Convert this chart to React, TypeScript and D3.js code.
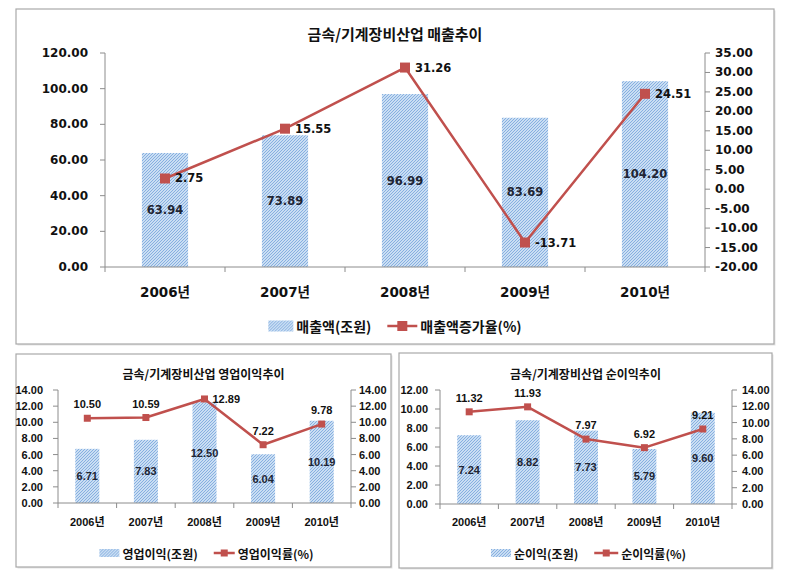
import React, { useEffect, useRef } from 'react';
import * as d3 from 'd3';

// ---------- data ----------
const years = ['2006년', '2007년', '2008년', '2009년', '2010년'];

const salesValues = [63.94, 73.89, 96.99, 83.69, 104.2];
const salesGrowth = [2.75, 15.55, 31.26, -13.71, 24.51];
const salesLeftTicks = [0, 20, 40, 60, 80, 100, 120];
const salesRightTicks = [-20, -15, -10, -5, 0, 5, 10, 15, 20, 25, 30, 35];

const opProfit = [6.71, 7.83, 12.5, 6.04, 10.19];
const opMargin = [10.5, 10.59, 12.89, 7.22, 9.78];
const opLeftTicks = [0, 2, 4, 6, 8, 10, 12, 14];
const opRightTicks = [0, 2, 4, 6, 8, 10, 12, 14];

const netProfit = [7.24, 8.82, 7.73, 5.79, 9.6];
const netMargin = [11.32, 11.93, 7.97, 6.92, 9.21];
const netLeftTicks = [0, 2, 4, 6, 8, 10, 12];
const netRightTicks = [0, 2, 4, 6, 8, 10, 12, 14];

const RED = '#C0504D';
const AXIS = '#8c8c8c';
const fmt = (v: number) => v.toFixed(2);

type Cfg = {
  frame: [number, number, number, number];
  plot: { left: number; right: number; top: number; bottom: number };
  leftTicks: number[];
  rightTicks: number[];
  bars: number[];
  line: number[];
  title: string;
  titleY: number;
  titleSize: number;
  barLegend: string;
  lineLegend: string;
  numFont: string;
  tickSize: number;
  barLabelSize: number;
  lineLabelSize: number;
  catSize: number;
  catY: number;
  legendSize: number;
  legendY: number;
  legendShift: number;
  swatchW: number;
  swatchH: number;
  lineSwatchW: number;
  markerSize: number;
  lineWidth: number;
  barFrac: number;
  lineLabelSide: ('right' | 'above')[];
  rightOffset: number;
  aboveOffset: number;
  leftPad: number;
  rightPad: number;
};

function drawChart(svg: d3.Selection<SVGSVGElement, unknown, null, undefined>, c: Cfg) {
  const g = svg.append('g');
  const [fx0, fy0, fx1, fy1] = c.frame;
  g.append('rect')
    .attr('x', fx0 + 1.5).attr('y', fy0 + 1.5)
    .attr('width', fx1 - fx0).attr('height', fy1 - fy0)
    .attr('fill', '#e4e4e4');
  g.append('rect')
    .attr('x', fx0).attr('y', fy0)
    .attr('width', fx1 - fx0).attr('height', fy1 - fy0)
    .attr('fill', '#fff').attr('stroke', '#a9a9a9').attr('stroke-width', 1.2);

  const font = `${c.numFont}, 'Noto Sans CJK KR', sans-serif`;
  const kfont = `'Noto Sans CJK KR', sans-serif`;

  g.append('text')
    .attr('x', (fx0 + fx1) / 2).attr('y', c.titleY)
    .attr('text-anchor', 'middle').attr('dominant-baseline', 'central')
    .attr('font-family', kfont).attr('font-weight', 'bold')
    .attr('font-size', c.titleSize).attr('fill', '#111')
    .text(c.title);

  const { left, right, top, bottom } = c.plot;
  const x = d3.scaleBand<string>().domain(years).range([left, right]);
  const yL = d3.scaleLinear()
    .domain([c.leftTicks[0], c.leftTicks[c.leftTicks.length - 1]])
    .range([bottom, top]);
  const yR = d3.scaleLinear()
    .domain([c.rightTicks[0], c.rightTicks[c.rightTicks.length - 1]])
    .range([bottom, top]);
  const bw = x.bandwidth() * c.barFrac;
  const cx = (k: string) => (x(k) as number) + x.bandwidth() / 2;

  // bars
  g.selectAll('rect.bar').data(c.bars).enter().append('rect')
    .attr('class', 'bar')
    .attr('x', (_d, i) => cx(years[i]) - bw / 2)
    .attr('y', (d) => yL(d))
    .attr('width', bw)
    .attr('height', (d) => yL(0) - yL(d))
    .attr('fill', 'url(#hatch)');

  // left axis
  g.append('line').attr('x1', left).attr('x2', left).attr('y1', top).attr('y2', bottom)
    .attr('stroke', AXIS).attr('stroke-width', 1);
  c.leftTicks.forEach((t) => {
    g.append('line').attr('x1', left - 5).attr('x2', left).attr('y1', yL(t)).attr('y2', yL(t))
      .attr('stroke', AXIS);
    g.append('text').attr('x', left - c.leftPad).attr('y', yL(t))
      .attr('text-anchor', 'end').attr('dominant-baseline', 'central')
      .attr('font-family', font).attr('font-weight', 'bold').attr('font-size', c.tickSize)
      .attr('fill', '#111').text(fmt(t));
  });
  // right axis
  g.append('line').attr('x1', right).attr('x2', right).attr('y1', top).attr('y2', bottom)
    .attr('stroke', AXIS).attr('stroke-width', 1);
  c.rightTicks.forEach((t) => {
    g.append('line').attr('x1', right).attr('x2', right + 5).attr('y1', yR(t)).attr('y2', yR(t))
      .attr('stroke', AXIS);
    g.append('text').attr('x', right + c.rightPad).attr('y', yR(t))
      .attr('text-anchor', 'start').attr('dominant-baseline', 'central')
      .attr('font-family', font).attr('font-weight', 'bold').attr('font-size', c.tickSize)
      .attr('fill', '#111').text(fmt(t));
  });
  // x axis
  g.append('line').attr('x1', left).attr('x2', right).attr('y1', bottom).attr('y2', bottom)
    .attr('stroke', AXIS);
  const bounds = years.map((k) => x(k) as number).concat([right]);
  bounds.forEach((b) => {
    g.append('line').attr('x1', b).attr('x2', b).attr('y1', bottom).attr('y2', bottom + 5)
      .attr('stroke', AXIS);
  });
  years.forEach((k) => {
    g.append('text').attr('x', cx(k)).attr('y', c.catY)
      .attr('text-anchor', 'middle').attr('dominant-baseline', 'central')
      .attr('font-family', font).attr('font-weight', 'bold').attr('font-size', c.catSize)
      .attr('fill', '#111').text(k);
  });

  // bar labels (center)
  c.bars.forEach((v, i) => {
    g.append('text').attr('x', cx(years[i])).attr('y', yL(v / 2))
      .attr('text-anchor', 'middle').attr('dominant-baseline', 'central')
      .attr('font-family', font).attr('font-weight', 'bold').attr('font-size', c.barLabelSize)
      .attr('fill', '#1e2533').text(fmt(v));
  });

  // line
  const lineGen = d3.line<number>()
    .x((_d, i) => cx(years[i]))
    .y((d) => yR(d));
  g.append('path').datum(c.line).attr('d', lineGen)
    .attr('fill', 'none').attr('stroke', RED).attr('stroke-width', c.lineWidth)
    .attr('stroke-linejoin', 'round');
  const m = c.markerSize;
  c.line.forEach((v, i) => {
    g.append('rect').attr('x', cx(years[i]) - m / 2).attr('y', yR(v) - m / 2)
      .attr('width', m).attr('height', m).attr('fill', RED);
  });
  c.line.forEach((v, i) => {
    const side = c.lineLabelSide[i];
    const t = g.append('text')
      .attr('font-family', font).attr('font-weight', 'bold').attr('font-size', c.lineLabelSize)
      .attr('fill', '#111').attr('dominant-baseline', 'central').text(fmt(v));
    if (side === 'right') {
      t.attr('x', cx(years[i]) + c.rightOffset).attr('y', yR(v)).attr('text-anchor', 'start');
    } else {
      t.attr('x', cx(years[i])).attr('y', yR(v) - c.aboveOffset).attr('text-anchor', 'middle');
    }
  });

  // legend
  const lg = g.append('g');
  lg.append('rect').attr('x', 0).attr('y', -c.swatchH / 2).attr('width', c.swatchW)
    .attr('height', c.swatchH).attr('fill', 'url(#hatch)');
  const t1 = lg.append('text').attr('x', c.swatchW + 3).attr('y', 0)
    .attr('dominant-baseline', 'central').attr('font-family', kfont).attr('font-weight', 'bold')
    .attr('font-size', c.legendSize).attr('fill', '#111').text(c.barLegend);
  const w1 = (t1.node() as SVGTextElement).getComputedTextLength();
  const lx = c.swatchW + 3 + w1 + 16;
  lg.append('line').attr('x1', lx).attr('x2', lx + c.lineSwatchW).attr('y1', 0).attr('y2', 0)
    .attr('stroke', RED).attr('stroke-width', c.lineWidth);
  lg.append('rect').attr('x', lx + c.lineSwatchW / 2 - m / 2).attr('y', -m / 2)
    .attr('width', m).attr('height', m).attr('fill', RED);
  const t2 = lg.append('text').attr('x', lx + c.lineSwatchW + 3).attr('y', 0)
    .attr('dominant-baseline', 'central').attr('font-family', kfont).attr('font-weight', 'bold')
    .attr('font-size', c.legendSize).attr('fill', '#111').text(c.lineLegend);
  const w2 = (t2.node() as SVGTextElement).getComputedTextLength();
  const total = lx + c.lineSwatchW + 3 + w2;
  lg.attr('transform', `translate(${(fx0 + fx1) / 2 - total / 2 + c.legendShift},${c.legendY})`);
}

export default function App() {
  const ref = useRef<SVGSVGElement | null>(null);
  useEffect(() => {
    document.body.style.margin = '0';
    const svg = d3.select(ref.current as SVGSVGElement);
    svg.selectAll('*').remove();
    const defs = svg.append('defs');
    const p = defs.append('pattern').attr('id', 'hatch').attr('patternUnits', 'userSpaceOnUse')
      .attr('width', 3).attr('height', 3);
    p.append('rect').attr('width', 3).attr('height', 3).attr('fill', '#cadef3');
    p.append('path').attr('d', 'M-1,1 L1,-1 M0,3 L3,0 M2,4 L4,2')
      .attr('stroke', '#86afe0').attr('stroke-width', 1);

    drawChart(svg, {
      frame: [16, 9, 774, 344],
      plot: { left: 105, right: 705, top: 53, bottom: 267 },
      leftTicks: salesLeftTicks,
      rightTicks: salesRightTicks,
      bars: salesValues,
      line: salesGrowth,
      title: '금속/기계장비산업 매출추이',
      titleY: 33,
      titleSize: 15,
      barLegend: '매출액(조원)',
      lineLegend: '매출액증가율(%)',
      numFont: "'DejaVu Sans'",
      tickSize: 12,
      barLabelSize: 11.5,
      lineLabelSize: 11.5,
      catSize: 13.5,
      catY: 292,
      legendSize: 14,
      legendY: 326,
      legendShift: 0,
      swatchW: 25,
      swatchH: 11,
      lineSwatchW: 30,
      markerSize: 10,
      lineWidth: 2.5,
      barFrac: 0.385,
      lineLabelSide: ['right', 'right', 'right', 'right', 'right'],
      rightOffset: 10,
      aboveOffset: 14,
      leftPad: 17,
      rightPad: 10,
    });

    drawChart(svg, {
      frame: [16, 354, 391, 567],
      plot: { left: 58, right: 351, top: 390, bottom: 503 },
      leftTicks: opLeftTicks,
      rightTicks: opRightTicks,
      bars: opProfit,
      line: opMargin,
      title: '금속/기계장비산업 영업이익추이',
      titleY: 373,
      titleSize: 12,
      barLegend: '영업이익(조원)',
      lineLegend: '영업이익률(%)',
      numFont: "'Liberation Sans'",
      tickSize: 11,
      barLabelSize: 11,
      lineLabelSize: 11,
      catSize: 11,
      catY: 522,
      legendSize: 12,
      legendY: 553,
      legendShift: 3,
      swatchW: 20,
      swatchH: 8,
      lineSwatchW: 21,
      markerSize: 7,
      lineWidth: 2.5,
      barFrac: 0.41,
      lineLabelSide: ['above', 'above', 'right', 'above', 'above'],
      rightOffset: 8,
      aboveOffset: 14,
      leftPad: 15,
      rightPad: 8,
    });

    drawChart(svg, {
      frame: [399, 353, 772, 568],
      plot: { left: 440, right: 732, top: 390, bottom: 504 },
      leftTicks: netLeftTicks,
      rightTicks: netRightTicks,
      bars: netProfit,
      line: netMargin,
      title: '금속/기계장비산업 순이익추이',
      titleY: 373,
      titleSize: 12,
      barLegend: '순이익(조원)',
      lineLegend: '순이익률(%)',
      numFont: "'Liberation Sans'",
      tickSize: 11,
      barLabelSize: 11,
      lineLabelSize: 11,
      catSize: 11,
      catY: 522,
      legendSize: 12,
      legendY: 553,
      legendShift: 3,
      swatchW: 20,
      swatchH: 8,
      lineSwatchW: 24,
      markerSize: 7,
      lineWidth: 2.5,
      barFrac: 0.41,
      lineLabelSide: ['above', 'above', 'above', 'above', 'above'],
      rightOffset: 8,
      aboveOffset: 14,
      leftPad: 12,
      rightPad: 10,
    });
  }, []);
  return (
    <svg ref={ref} width={787} height={581} style={{ display: 'block', background: '#fff' }} />
  );
}
